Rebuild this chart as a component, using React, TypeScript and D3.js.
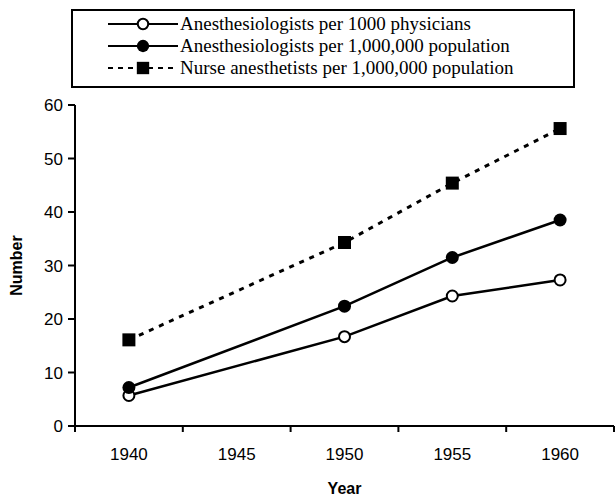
import React from "react";
import * as d3 from "d3";

const categories = ["1940", "1945", "1950", "1955", "1960"];
const yTicks = [0, 10, 20, 30, 40, 50, 60];
const years = ["1940", "1950", "1955", "1960"];
const perThousandPhysicians = [5.7, 16.7, 24.3, 27.3];
const perMillionPopulation = [7.2, 22.4, 31.5, 38.5];
const nursesPerMillion = [16.1, 34.3, 45.4, 55.6];
const legendLabels = [
  "Anesthesiologists per 1000 physicians",
  "Anesthesiologists per 1,000,000 population",
  "Nurse anesthetists per 1,000,000 population",
];

const W = 615;
const H = 497;
const left = 75;
const right = 614;
const top = 105;
const bottom = 426;

export default function App() {
  const x = d3.scaleBand<string>().domain(categories).range([left, right]).padding(0);
  const y = d3.scaleLinear().domain([0, 60]).range([bottom, top]);
  const cx = (c: string) => (x(c) as number) + x.bandwidth() / 2;

  const line = d3
    .line<[string, number]>()
    .x((d) => cx(d[0]))
    .y((d) => y(d[1]));

  const series = [
    { values: perThousandPhysicians, marker: "open", dash: null },
    { values: perMillionPopulation, marker: "filled", dash: null },
    { values: nursesPerMillion, marker: "square", dash: "5 6" },
  ];

  const drawMarker = (kind: string, px: number, py: number, key: string, sc = 1) => {
    if (kind === "open")
      return <circle key={key} cx={px} cy={py} r={5.5 * sc} fill="white" stroke="black" strokeWidth={2} />;
    if (kind === "filled") return <circle key={key} cx={px} cy={py} r={6.5 * sc} fill="black" />;
    return <rect key={key} x={px - 6.5 * sc} y={py - 6.5 * sc} width={13 * sc} height={13 * sc} fill="black" />;
  };

  const boundaries = d3.range(categories.length + 1).map((i) => left + i * x.bandwidth());

  return (
    <svg width={W} height={H} style={{ position: "absolute", left: 0, top: 0, background: "white" }}>
      <rect x={0} y={0} width={W} height={H} fill="white" />
      {/* legend */}
      <rect x={72} y={10} width={502} height={77} fill="white" stroke="black" strokeWidth={2} />
      {legendLabels.map((lab, i) => {
        const ly = 24 + i * 22;
        const s = series[i];
        return (
          <g key={lab}>
            <line x1={108} x2={178} y1={ly} y2={ly} stroke="black" strokeWidth={2} strokeDasharray={s.dash ? "5 5" : undefined} />
            {drawMarker(s.marker, 143, ly, "lm" + i, 0.95)}
            <text x={180} y={ly + 6} fontFamily="Liberation Serif, Times New Roman, serif" fontSize={19}>
              {lab}
            </text>
          </g>
        );
      })}
      {/* axes */}
      <line x1={left} x2={left} y1={top} y2={bottom} stroke="black" strokeWidth={2} />
      <line x1={left} x2={right} y1={bottom} y2={bottom} stroke="black" strokeWidth={2} />
      {yTicks.map((t) => (
        <g key={"yt" + t}>
          <line x1={left - 7} x2={left} y1={y(t)} y2={y(t)} stroke="black" strokeWidth={2} />
          <text x={63} y={y(t) + 6} textAnchor="end" fontFamily="Liberation Sans, Arial, sans-serif" fontSize={17}>
            {t}
          </text>
        </g>
      ))}
      {boundaries.map((b, i) => (
        <line key={"xt" + i} x1={b} x2={b} y1={bottom} y2={bottom + 6} stroke="black" strokeWidth={2} />
      ))}
      {categories.map((c) => (
        <text key={"xl" + c} x={cx(c)} y={460} textAnchor="middle" fontFamily="Liberation Sans, Arial, sans-serif" fontSize={17}>
          {c}
        </text>
      ))}
      <text x={cx("1950")} y={494} textAnchor="middle" fontFamily="Liberation Sans, Arial, sans-serif" fontSize={16} fontWeight="bold">
        Year
      </text>
      <text
        transform={`translate(22, ${(top + bottom) / 2}) rotate(-90)`}
        textAnchor="middle"
        fontFamily="Liberation Sans, Arial, sans-serif"
        fontSize={16}
        fontWeight="bold"
      >
        Number
      </text>
      {/* series */}
      {series.map((s, si) => {
        const pts: [string, number][] = years.map((yr, i) => [yr, s.values[i]]);
        return (
          <g key={"s" + si}>
            <path d={line(pts) || ""} fill="none" stroke="black" strokeWidth={s.dash ? 3 : 2.5} strokeDasharray={s.dash || undefined} />
            {pts.map((p, i) => drawMarker(s.marker, cx(p[0]), y(p[1]), "m" + si + "-" + i))}
          </g>
        );
      })}
    </svg>
  );
}
